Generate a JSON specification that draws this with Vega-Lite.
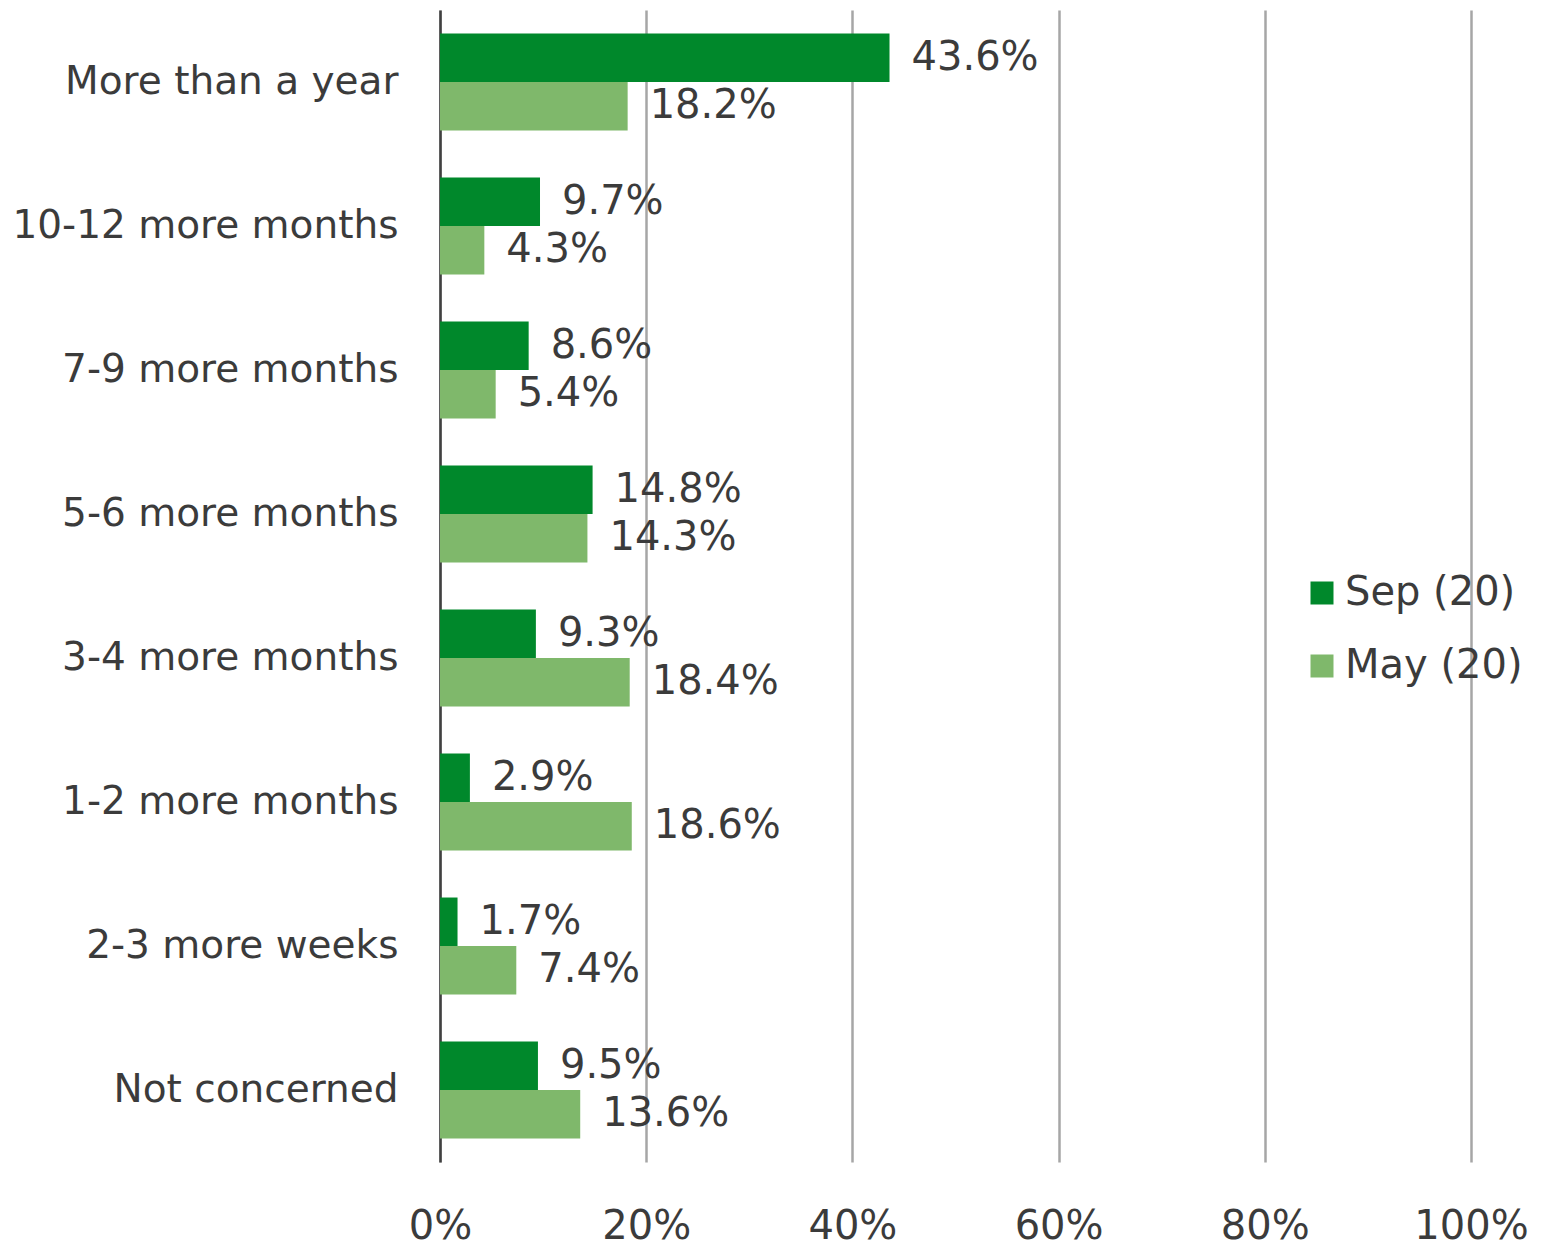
{
  "$schema": "https://vega.github.io/schema/vega-lite/v6.json",
  "autosize": {"type": "none"},
  "padding": {"left": 440, "top": 10, "right": 83, "bottom": 87},
  "width": 1031,
  "height": 1152,
  "background": "white",
  "config": {
    "font": "DejaVu Sans",
    "view": {"stroke": null},
    "axis": {"labelFont": "DejaVu Sans", "labelColor": "#3b3b3b"},
    "legend": {"labelFont": "DejaVu Sans", "labelColor": "#3b3b3b"}
  },
  "data": {
    "values": [
      {"category": "More than a year", "series": "Sep (20)", "value": 0.436},
      {"category": "More than a year", "series": "May (20)", "value": 0.182},
      {"category": "10-12 more months", "series": "Sep (20)", "value": 0.097},
      {"category": "10-12 more months", "series": "May (20)", "value": 0.043},
      {"category": "7-9 more months", "series": "Sep (20)", "value": 0.086},
      {"category": "7-9 more months", "series": "May (20)", "value": 0.054},
      {"category": "5-6 more months", "series": "Sep (20)", "value": 0.148},
      {"category": "5-6 more months", "series": "May (20)", "value": 0.143},
      {"category": "3-4 more months", "series": "Sep (20)", "value": 0.093},
      {"category": "3-4 more months", "series": "May (20)", "value": 0.184},
      {"category": "1-2 more months", "series": "Sep (20)", "value": 0.029},
      {"category": "1-2 more months", "series": "May (20)", "value": 0.186},
      {"category": "2-3 more weeks", "series": "Sep (20)", "value": 0.017},
      {"category": "2-3 more weeks", "series": "May (20)", "value": 0.074},
      {"category": "Not concerned", "series": "Sep (20)", "value": 0.095},
      {"category": "Not concerned", "series": "May (20)", "value": 0.136}
    ]
  },
  "encoding": {
    "y": {
      "field": "category",
      "type": "nominal",
      "sort": null,
      "title": null,
      "scale": {"paddingInner": 0, "paddingOuter": 0},
      "axis": {
        "ticks": false,
        "labelFontSize": 39,
        "labelPadding": 42,
        "labelLimit": 0,
        "domain": true,
        "domainColor": "#404040",
        "domainWidth": 2.5,
        "grid": false
      }
    },
    "yOffset": {
      "field": "series",
      "type": "nominal",
      "sort": ["Sep (20)", "May (20)"],
      "scale": {"paddingInner": 0, "paddingOuter": 0.485}
    },
    "x": {
      "field": "value",
      "type": "quantitative",
      "title": null,
      "scale": {"domain": [0, 1], "nice": false},
      "axis": {
        "values": [0, 0.2, 0.4, 0.6, 0.8, 1],
        "format": ".0%",
        "ticks": false,
        "domain": false,
        "labelFontSize": 40,
        "labelPadding": 44,
        "grid": true,
        "gridColor": "#a6a6a6",
        "gridWidth": 2.5,
        "labelFlush": false
      }
    }
  },
  "layer": [
    {
      "mark": {"type": "bar"},
      "encoding": {
        "color": {
          "field": "series",
          "type": "nominal",
          "sort": ["Sep (20)", "May (20)"],
          "scale": {"domain": ["Sep (20)", "May (20)"], "range": ["#00882b", "#7fb86b"]},
          "legend": {
            "title": null,
            "orient": "none",
            "legendX": 862,
            "legendY": 563,
            "symbolType": "square",
            "symbolSize": 529,
            "symbolStrokeWidth": 0,
            "labelFontSize": 40,
            "labelLimit": 0,
            "labelOffset": 3,
            "rowPadding": 33
          }
        }
      }
    },
    {
      "mark": {"type": "text", "align": "left", "baseline": "middle", "dx": 22, "fontSize": 40, "color": "#3b3b3b"},
      "encoding": {
        "text": {"field": "value", "type": "quantitative", "format": ".1%"}
      }
    }
  ]
}
